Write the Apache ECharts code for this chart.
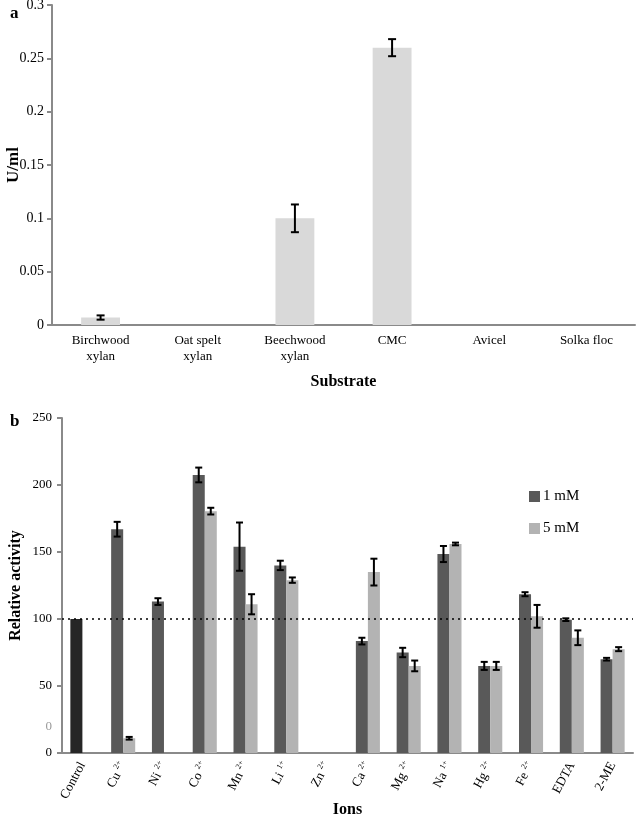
<!DOCTYPE html>
<html><head><meta charset="utf-8">
<script src="https://cdn.jsdelivr.net/npm/echarts@6/dist/echarts.min.js"></script>
<style>html,body{margin:0;padding:0;background:#fff}#c{width:638px;height:818px}</style>
</head><body><div id="c"></div>
<script>
// Panel a
const substrates = ['Birchwood\nxylan','Oat spelt\nxylan','Beechwood\nxylan','CMC','Avicel','Solka floc'];
const activity = [0.007, 0, 0.1, 0.26, 0, 0];
const activityErr = [0.002, null, 0.013, 0.008, null, null];
const yTicksA = [0, 0.05, 0.1, 0.15, 0.2, 0.25, 0.3];

// Panel b
const ions = ['Control','Cu','Ni','Co','Mn','Li','Zn','Ca','Mg','Na','Hg','Fe','EDTA','2-ME'];
const ionCharges = ['','2+','2+','2+','2+','1+','2+','2+','2+','1+','2+','2+','',''];
const mM1 = [100, 167, 113, 207.5, 154, 140, 0, 83.5, 75, 148.5, 65, 118.5, 99.5, 70];
const mM1Err = [null, 5.5, 2.5, 5.5, 18, 3.5, null, 2.5, 3.5, 6, 3, 1.5, 1, 1];
const mM5 = [null, 11, 0, 180.5, 111, 129, 0, 135, 65, 156, 65, 102, 86, 77.5];
const mM5Err = [null, 1, null, 2.5, 7.5, 2, null, 10, 4, 1, 3, 8.5, 5.5, 1.5];
const yTicksB = [0, 50, 100, 150, 200, 250];
const strayLabelValue = 20; // faint stray "0" label on panel b's axis
const seriesNames = ['1 mM', '5 mM'];

const FONT = 'Liberation Serif';
const AXIS = '#8a8a8a';
const chart = echarts.init(document.getElementById('c'));

const catGapB = 0.41;
function errData(vals, errs) {
  const out = [];
  vals.forEach((v, i) => { if (errs[i] != null && v != null) out.push([i, v, errs[i]]); });
  return out;
}
function errRender(offsetFactor, frac, cap) {
  return function (params, api) {
    const x = api.value(0), v = api.value(1), e = api.value(2);
    const bw = api.size([1, 0])[0];
    const off = offsetFactor * bw * frac;
    const hi = api.coord([x, v + e]);
    const lo = api.coord([x, v - e]);
    const cx = hi[0] + off;
    const st = { stroke: '#000', lineWidth: 2 };
    return { type: 'group', children: [
      { type: 'line', shape: { x1: cx, y1: hi[1], x2: cx, y2: lo[1] }, style: st },
      { type: 'line', shape: { x1: cx - cap, y1: hi[1], x2: cx + cap, y2: hi[1] }, style: st },
      { type: 'line', shape: { x1: cx - cap, y1: lo[1], x2: cx + cap, y2: lo[1] }, style: st }
    ]};
  };
}
const barFracB = (1 - catGapB) / 2;

const option = {
  animation: false,
  textStyle: { fontFamily: FONT },
  title: [
    { text: 'a', left: 5, top: 0, textStyle: { fontFamily: FONT, fontWeight: 'bold', fontSize: 17, color: '#000' } },
    { text: 'b', left: 5, top: 408, textStyle: { fontFamily: FONT, fontWeight: 'bold', fontSize: 17, color: '#000' } }
  ],
  legend: {
    data: seriesNames, orient: 'vertical', left: 524, top: 484, itemWidth: 11, itemHeight: 11, itemGap: 17,
    icon: 'rect', textStyle: { fontFamily: FONT, fontSize: 15, color: '#000', padding: [0, 0, 0, -2] }
  },
  grid: [
    { left: 52, top: 5, width: 583, height: 320, outerBoundsMode: 'none', containLabel: false },
    { left: 62, top: 418, width: 571, height: 335, outerBoundsMode: 'none', containLabel: false }
  ],
  xAxis: [
    { type: 'category', gridIndex: 0, data: substrates,
      name: 'Substrate', nameLocation: 'middle', nameGap: 49, nameMoveOverlap: false,
      nameTextStyle: { fontFamily: FONT, fontWeight: 'bold', fontSize: 16, color: '#000' },
      axisLine: { lineStyle: { color: AXIS, width: 2 } },
      axisTick: { lineStyle: { color: AXIS, width: 2 }, length: 5 },
      axisLabel: { fontFamily: FONT, fontSize: 13, color: '#000', lineHeight: 16, margin: 8, verticalAlign: 'top', interval: 0 } },
    { type: 'category', gridIndex: 1, data: ions,
      name: 'Ions', nameLocation: 'middle', nameGap: 49, nameMoveOverlap: false,
      nameTextStyle: { fontFamily: FONT, fontWeight: 'bold', fontSize: 16, color: '#000' },
      axisLine: { lineStyle: { color: AXIS, width: 2 } },
      axisTick: { lineStyle: { color: AXIS, width: 2 }, length: 5 },
      axisLabel: { fontFamily: FONT, fontSize: 13, color: '#000', rotate: 62, margin: 10, interval: 0,
        formatter: function (v, i) { return ionCharges[i] ? v + ' {s|' + ionCharges[i] + '}' : v; },
        rich: { s: { fontSize: 8, fontFamily: FONT, color: '#000', verticalAlign: 'top', padding: [0, 0, 8, 0] } } } }
  ],
  yAxis: [
    { type: 'value', gridIndex: 0, min: 0, max: 0.3, interval: 0.05,
      name: 'U/ml', nameLocation: 'middle', nameGap: 30, nameMoveOverlap: false,
      nameTextStyle: { fontFamily: FONT, fontWeight: 'bold', fontSize: 17, color: '#000' },
      axisLine: { show: true, lineStyle: { color: AXIS, width: 2 } },
      axisTick: { show: true, lineStyle: { color: AXIS, width: 2 }, length: 5 },
      splitLine: { show: false },
      axisLabel: { fontFamily: FONT, fontSize: 14, color: '#000', margin: 8, customValues: yTicksA,
        formatter: function (v) { return String(+v.toFixed(2)); } } },
    { type: 'value', gridIndex: 1, min: 0, max: 250, interval: 50,
      name: 'Relative activity', nameLocation: 'middle', nameGap: 38, nameMoveOverlap: false,
      nameTextStyle: { fontFamily: FONT, fontWeight: 'bold', fontSize: 16, color: '#000' },
      axisLine: { show: true, lineStyle: { color: AXIS, width: 2 } },
      axisTick: { show: true, lineStyle: { color: AXIS, width: 2 }, length: 5, customValues: yTicksB },
      splitLine: { show: false },
      axisLabel: { fontFamily: FONT, fontSize: 13, color: '#000', margin: 10,
        customValues: yTicksB.concat([strayLabelValue]),
        formatter: function (v) { return v === strayLabelValue ? '{g|0}' : String(v); },
        rich: { g: { color: '#9a9a9a', fontFamily: FONT, fontSize: 13 } } } }
  ],
  series: [
    { type: 'bar', xAxisIndex: 0, yAxisIndex: 0, data: activity, barWidth: '40%',
      itemStyle: { color: '#d9d9d9' } },
    { type: 'custom', xAxisIndex: 0, yAxisIndex: 0, data: errData(activity, activityErr),
      renderItem: errRender(0, 0, 4), z: 5 },
    { name: seriesNames[0], type: 'bar', xAxisIndex: 1, yAxisIndex: 1,
      data: mM1.map((v, i) => i === 0 ? { value: v, itemStyle: { color: '#262626' } } : v),
      barGap: '0%', barCategoryGap: (catGapB * 100) + '%', itemStyle: { color: '#595959' },
      markLine: { silent: true, symbol: 'none', label: { show: false },
        lineStyle: { color: '#000', type: [2, 4], width: 1.5 }, data: [{ yAxis: 100 }] } },
    { name: seriesNames[1], type: 'bar', xAxisIndex: 1, yAxisIndex: 1, data: mM5,
      barGap: '0%', barCategoryGap: (catGapB * 100) + '%', itemStyle: { color: '#b3b3b3' } },
    { type: 'custom', xAxisIndex: 1, yAxisIndex: 1, data: errData(mM1, mM1Err),
      renderItem: errRender(-0.5, barFracB, 3.5), z: 5 },
    { type: 'custom', xAxisIndex: 1, yAxisIndex: 1, data: errData(mM5, mM5Err),
      renderItem: errRender(0.5, barFracB, 3.5), z: 5 }
  ]
};
chart.setOption(option);
</script></body></html>
